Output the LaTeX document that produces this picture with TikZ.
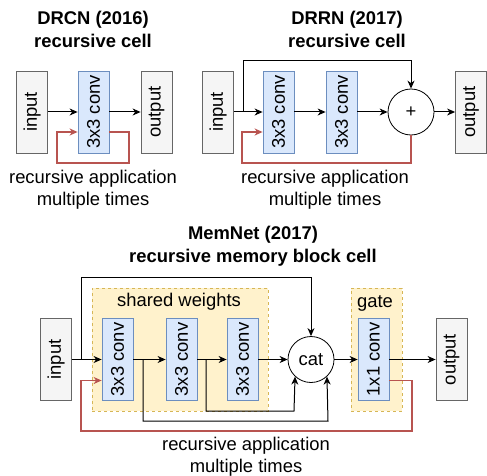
\documentclass[tikz,border=0pt]{standalone}
\usepackage{fontspec}
\setmainfont{Liberation Sans}
\usetikzlibrary{arrows.meta,calc}
\definecolor{boxfill}{HTML}{F5F5F5}
\definecolor{boxline}{HTML}{666666}
\definecolor{convfill}{HTML}{DAE8FC}
\definecolor{convline}{HTML}{6C8EBF}
\definecolor{grpfill}{HTML}{FFF2CC}
\definecolor{grpline}{HTML}{D6B656}
\definecolor{loopred}{HTML}{B85450}
\begin{document}
\begin{tikzpicture}[x=1pt,y=-1pt,
  every node/.style={font=\fontsize{18.4}{22}\selectfont, inner sep=0pt},
  iobox/.style={draw=boxline, fill=boxfill, line width=0.8pt, minimum width=31pt, minimum height=82pt},
  convbox/.style={draw=convline, fill=convfill, line width=0.8pt, minimum width=31pt, minimum height=82pt},
  group/.style={draw=grpline, fill=grpfill, dashed, line width=0.8pt},
  joint/.style={draw=black, fill=white, circle, line width=0.8pt, minimum size=46pt},
  title/.style={align=center, font=\fontsize{18.4}{23}\selectfont\bfseries},
  note/.style={align=center},
  tip/.style={-{Stealth[length=8pt,width=7pt,inset=2.5pt]}},
  flow/.style={tip, draw=black, line width=1pt},
  fb/.style={tip, draw=loopred, line width=1.4pt}]
\useasboundingbox (0,0) rectangle (487,476);

% ---------- DRCN ----------
\node[title] (t1) at (93,29) {DRCN (2016)\\recursive cell};
\node[iobox] (a1) at (32,112) {\rotatebox{90}{input}};
\node[convbox] (a2) at (93.5,112) {\rotatebox{90}{3x3 conv}};
\node[iobox] (a3) at (156.5,112) {\rotatebox{90}{output}};
\draw[flow] (a1) -- (a2);
\draw[flow] (a2) -- (a3);
\draw[fb] ([yshift=-20pt]a2.east) -- (129,132) -- (129,163) -- (57,163) -- (57,132) -- ([yshift=-20pt]a2.west);
\node[note] (n1) at (93,190) {recursive application\\multiple times};

% ---------- DRRN ----------
\node[title] (t2) at (347,29) {DRRN (2017)\\recursive cell};
\node[iobox] (b1) at (218,112) {\rotatebox{90}{input}};
\node[convbox] (b2) at (278.5,112) {\rotatebox{90}{3x3 conv}};
\node[convbox] (b3) at (341.5,112) {\rotatebox{90}{3x3 conv}};
\node[joint] (b4) at (411,112) {+};
\node[iobox] (b5) at (471,112) {\rotatebox{90}{output}};
\draw[flow] (b1) -- (b2);
\draw[flow] (b2) -- (b3);
\draw[flow] (b3) -- (b4);
\draw[flow] (b4) -- (b5);
\draw[flow] (243,112) -- (243,61) -- (411,61) -- (b4.north);
\draw[fb] (b4.south) -- (411,163) -- (242,163) -- (242,132) -- ([yshift=-20pt]b2.west);
\node[note] (n2) at (325,190) {recursive application\\multiple times};

% ---------- MemNet ----------
\node[title] (t3) at (253,246) {MemNet (2017)\\recursive memory block cell};
\node[group, minimum width=176pt, minimum height=123pt] (g1) at (180,349.5) {};
\node[group, minimum width=51pt, minimum height=123pt] (g2) at (376.5,349.5) {};
\node (l1) at (179,302) {shared weights};
\node (l2) at (375,303) {gate};
\node[iobox] (c1) at (56,359.5) {\rotatebox{90}{input}};
\node[convbox] (c2) at (117.5,359.5) {\rotatebox{90}{3x3 conv}};
\node[convbox] (c3) at (181.5,359.5) {\rotatebox{90}{3x3 conv}};
\node[convbox] (c4) at (242.5,359.5) {\rotatebox{90}{3x3 conv}};
\node[joint] (c5) at (311,359.5) {cat};
\node[convbox] (c6) at (373.5,359.5) {\rotatebox{90}{1x1 conv}};
\node[iobox] (c7) at (451.5,359.5) {\rotatebox{90}{output}};
\draw[flow] (c1) -- (c2);
\draw[flow] (c2) -- (c3);
\draw[flow] (c3) -- (c4);
\draw[flow] (c4) -- (c5);
\draw[flow] (c5) -- (c6);
\draw[flow] (c6) -- (c7);
\draw[flow] (81,359.5) -- (81,277) -- (311,277) -- (c5.north);
\draw[flow] (143,359.5) -- (143,421) -- (328,421) -- (c5.-47);
\draw[flow] (206,359.5) -- (206,411) -- (294,411) -- (c5.-133);
\draw[fb] ([yshift=-21pt]c6.east) -- (412,380.5) -- (412,431) -- (81,431) -- (81,380.5) -- ([yshift=-21pt]c2.west);
\node[note] (n3) at (246,457) {recursive application\\multiple times};
\end{tikzpicture}
\end{document}
